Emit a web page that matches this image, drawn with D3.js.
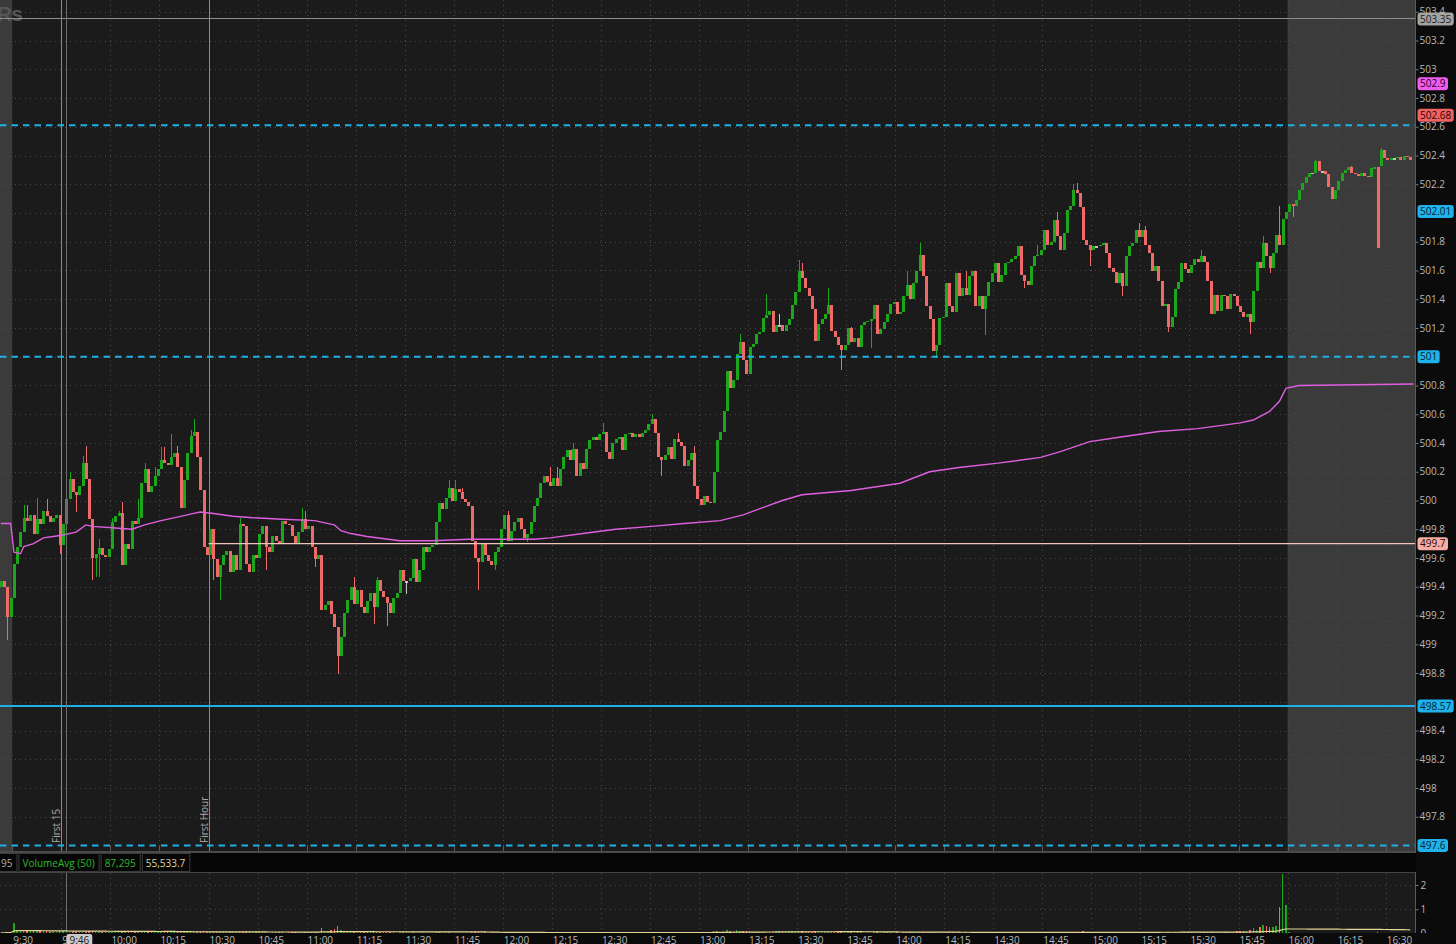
<!DOCTYPE html>
<html><head><meta charset="utf-8">
<script src="https://cdn.jsdelivr.net/npm/d3@7"></script>
<style>
html,body{margin:0;padding:0;background:#0b0b0b;overflow:hidden;}
svg{display:block;font-family:"Open Sans","Noto Sans",sans-serif;}
</style></head><body>
<svg id="chart" width="1456" height="944"></svg>
<script>
// ---------------- DATA ----------------
// 1-minute bars, index 0 = 9:30; first bar is 9:26 (index -4)
const startIndex = -4;
const firstOpen = 499.40;
const closes = [
 499.44, 499.40, 499.19, 499.32,
 499.56, 499.68, 499.78, 499.88, 499.86, 499.90, 499.77, 499.87, 499.84, 499.93,
 499.89, 499.85, 499.88, 499.90, 499.69, 499.84, 500.01, 500.15, 500.06, 500.04,
 500.10, 500.26, 500.15, 499.87, 499.60, 499.63, 499.67, 499.62, 499.61, 499.66,
 499.85, 499.89, 499.91, 499.55, 499.70, 499.66, 499.86, 499.84, 499.88, 500.12,
 500.22, 500.06, 500.10, 500.17, 500.22, 500.28, 500.26, 500.25, 500.30, 500.33,
 500.23, 499.95, 500.14, 500.33, 500.45, 500.48, 500.30, 500.07, 499.68, 499.62,
 499.80, 499.59, 499.47, 499.55, 499.62, 499.65, 499.50, 499.62, 499.52, 499.84,
 499.82, 499.56, 499.50, 499.62, 499.60, 499.77, 499.82, 499.68, 499.64, 499.75,
 499.72, 499.70, 499.86, 499.84, 499.83, 499.75, 499.70, 499.78, 499.87, 499.80,
 499.82, 499.68, 499.59, 499.62, 499.24, 499.27, 499.30, 499.21, 499.12, 498.92,
 499.05, 499.22, 499.31, 499.40, 499.28, 499.38, 499.26, 499.22, 499.30, 499.36,
 499.26, 499.45, 499.37, 499.33, 499.29, 499.22, 499.32, 499.36, 499.52, 499.44,
 499.44, 499.46, 499.59, 499.43, 499.52, 499.68, 499.64, 499.68, 499.69, 499.85,
 499.98, 499.94, 500.02, 500.09, 500.00, 500.08, 500.06, 500.01, 499.99, 499.96,
 499.72, 499.60, 499.57, 499.70, 499.62, 499.58, 499.55, 499.64, 499.68, 499.80,
 499.90, 499.72, 499.79, 499.85, 499.88, 499.80, 499.74, 499.77, 499.85, 499.96,
 500.02, 500.12, 500.17, 500.13, 500.10, 500.16, 500.10, 500.22, 500.30, 500.35,
 500.28, 500.36, 500.17, 500.26, 500.22, 500.36, 500.42, 500.44, 500.42, 500.46,
 500.48, 500.34, 500.29, 500.40, 500.43, 500.44, 500.35, 500.46, 500.47, 500.44,
 500.46, 500.44, 500.47, 500.49, 500.53, 500.57, 500.47, 500.30, 500.28, 500.32,
 500.37, 500.29, 500.43, 500.41, 500.38, 500.24, 500.28, 500.33, 500.10, 500.01,
 499.97, 500.03, 499.99, 499.98, 500.20, 500.42, 500.48, 500.62, 500.90, 500.78,
 500.84, 501.02, 501.10, 500.98, 500.88, 501.07, 501.09, 501.16, 501.17, 501.27,
 501.29, 501.32, 501.17, 501.22, 501.22, 501.18, 501.22, 501.26, 501.36, 501.45,
 501.60, 501.55, 501.48, 501.42, 501.33, 501.11, 501.23, 501.26, 501.30, 501.36,
 501.18, 501.14, 501.08, 501.05, 501.08, 501.20, 501.10, 501.13, 501.07, 501.22,
 501.24, 501.25, 501.26, 501.36, 501.16, 501.19, 501.24, 501.30, 501.37, 501.38,
 501.30, 501.31, 501.42, 501.50, 501.40, 501.51, 501.60, 501.71, 501.56, 501.35,
 501.26, 501.04, 501.08, 501.27, 501.28, 501.51, 501.35, 501.31, 501.58, 501.42,
 501.48, 501.43, 501.56, 501.60, 501.35, 501.42, 501.33, 501.42, 501.52, 501.58,
 501.65, 501.52, 501.57, 501.65, 501.66, 501.68, 501.70, 501.77, 501.57, 501.53,
 501.50, 501.63, 501.70, 501.71, 501.74, 501.88, 501.78, 501.80, 501.95, 501.84,
 501.74, 501.86, 502.02, 502.05, 502.16, 502.14, 502.04, 501.81, 501.78, 501.74,
 501.77, 501.77, 501.78, 501.79, 501.72, 501.62, 501.59, 501.51, 501.58, 501.49,
 501.70, 501.77, 501.79, 501.88, 501.83, 501.88, 501.78, 501.72, 501.60, 501.63,
 501.53, 501.35, 501.37, 501.21, 501.28, 501.47, 501.52, 501.65, 501.61, 501.58,
 501.64, 501.68, 501.66, 501.70, 501.66, 501.53, 501.30, 501.43, 501.32, 501.43,
 501.42, 501.33, 501.44, 501.42, 501.35, 501.31, 501.28, 501.30, 501.24, 501.46,
 501.66, 501.62, 501.79, 501.70, 501.62, 501.72, 501.85, 501.78, 501.96, 502.01,
 502.06, 502.05, 502.09, 502.16, 502.21, 502.25, 502.28, 502.28, 502.36, 502.29,
 502.29, 502.27, 502.18, 502.10, 502.16, 502.22, 502.28, 502.30, 502.32, 502.28,
 502.27, 502.26, 502.28, 502.26, 502.25, 502.31, 502.32, 501.76, 502.44, 502.38,
 502.37, 502.38, 502.38, 502.39, 502.37, 502.40, 502.39, 502.37
];
// opens that do not equal the previous close: [barIndex, open]
const gapOpens = [[418, 502.33]];
// wick extremes: [barIndex, price]
const highs = [[3,499.97],[4,499.97],[7,500.02],[10,500.01],[17,500.20],[21,500.31],[22,500.38],[26,499.73],[30,499.88],[32,499.93],[33,499.99],[38,500.01],[40,500.26],[43,500.23],[45,500.37],[46,500.37],[48,500.46],[50,500.38],[54,500.49],[55,500.57],[69,499.88],[88,499.95],[89,499.93],[104,499.47],[111,499.47],[133,500.14],[135,500.14],[137,500.09],[151,499.93],[164,500.23],[166,500.23],[171,500.40],[180,500.54],[195,500.60],[203,500.47],[208,500.38],[222,501.16],[230,501.44],[234,501.30],[240,501.67],[241,501.65],[249,501.48],[256,501.21],[273,501.60],[277,501.79],[291,501.60],[313,501.78],[319,502.01],[324,502.20],[325,502.21],[343,501.86],[344,501.93],[346,501.91],[363,501.74],[382,501.84],[387,502.05],[398,502.37],[409,502.33],[418,502.45]];
const lows = [[-2,499.03],[14,499.63],[19,499.92],[24,499.45],[25,499.47],[26,499.47],[61,499.45],[63,499.31],[77,499.52],[92,499.54],[99,498.79],[110,499.14],[114,499.13],[120,499.35],[142,499.38],[147,499.52],[157,499.71],[198,500.17],[253,500.91],[262,501.06],[282,500.99],[297,501.15],[309,501.48],[329,501.63],[339,501.42],[353,501.17],[378,501.16],[384,501.58],[391,501.97]];
// volume per bar, thousands of shares
const volumes = [
 30, 25, 45, 35,
 420, 150, 120, 160, 110, 95, 130, 100, 90, 85,
 110, 80, 70, 75, 90, 95, 87, 75, 70, 60,
 65, 70, 80, 95, 120, 90, 70, 60, 75, 55,
 60, 50, 55, 80, 70, 60, 65, 50, 55, 60,
 65, 70, 55, 60, 50, 55, 60, 45, 70, 60,
 55, 110, 60, 75, 80, 60, 65, 90, 120, 80,
 70, 75, 80, 60, 55, 50, 65, 55, 45, 70,
 60, 55, 50, 45, 50, 55, 60, 45, 40, 50,
 45, 50, 55, 40, 45, 50, 55, 45, 40, 50,
 55, 60, 80, 75, 230, 120, 90, 140, 180, 290,
 150, 110, 90, 70, 65, 60, 55, 50, 60, 55,
 60, 50, 45, 55, 50, 45, 50, 40, 55, 45,
 40, 35, 45, 40, 35, 45, 40, 35, 30, 45,
 50, 40, 45, 50, 40, 35, 40, 35, 30, 40,
 70, 60, 55, 50, 45, 40, 35, 40, 35, 45,
 50, 45, 40, 35, 40, 35, 30, 35, 40, 45,
 40, 45, 35, 30, 35, 30, 35, 40, 45, 40,
 35, 40, 45, 35, 30, 35, 40, 35, 30, 35,
 40, 35, 30, 35, 40, 30, 35, 40, 30, 35,
 30, 35, 30, 35, 40, 45, 40, 55, 60, 45,
 40, 45, 40, 35, 40, 50, 45, 40, 60, 70,
 80, 60, 55, 50, 90, 100, 80, 120, 150, 110,
 100, 130, 120, 90, 100, 85, 80, 75, 70, 65,
 70, 60, 65, 60, 55, 60, 55, 60, 75, 80,
 110, 90, 80, 70, 65, 85, 60, 55, 50, 55,
 60, 50, 55, 60, 45, 50, 45, 40, 45, 50,
 40, 45, 40, 50, 45, 40, 45, 50, 45, 40,
 45, 40, 45, 50, 45, 50, 55, 70, 60, 55,
 50, 65, 55, 50, 45, 55, 50, 45, 50, 45,
 40, 45, 40, 45, 50, 40, 45, 50, 45, 40,
 45, 40, 45, 40, 35, 40, 45, 50, 45, 40,
 35, 40, 45, 40, 45, 55, 50, 45, 60, 55,
 50, 45, 55, 50, 60, 55, 60, 110, 70, 60,
 55, 50, 45, 40, 45, 50, 45, 55, 50, 60,
 55, 50, 45, 50, 45, 40, 50, 45, 55, 50,
 60, 70, 55, 75, 60, 55, 50, 55, 50, 45,
 50, 45, 50, 45, 55, 60, 70, 65, 60, 70,
 70, 75, 80, 70, 90, 100, 110, 120, 160, 220,
 140, 250, 350, 320, 250, 260, 300, 1100, 2450, 1180,
 60, 40, 30, 25, 30, 20, 25, 15, 20, 15,
 15, 10, 12, 20, 15, 10, 12, 10, 15, 10,
 8, 10, 6, 8, 10, 8, 12, 60, 30, 15,
 10, 8, 6, 10, 8, 6, 5, 8
];
// VWAP: [barIndex, price]
const vwapPoints = [[-4,499.84],[-1,499.84],[0,499.64],[2,499.63],[3,499.68],[6,499.70],[9,499.74],[12,499.75],[15,499.76],[19,499.78],[22,499.83],[24,499.82],[30,499.81],[36,499.80],[40,499.83],[45,499.86],[51,499.89],[55,499.91],[57,499.92],[61,499.91],[67,499.89],[73,499.88],[82,499.87],[92,499.86],[94,499.85],[98,499.83],[100,499.79],[103,499.77],[108,499.75],[118,499.72],[128,499.72],[139,499.73],[149,499.73],[159,499.73],[164,499.74],[174,499.77],[184,499.80],[195,499.82],[205,499.84],[216,499.86],[223,499.90],[229,499.95],[235,500.00],[241,500.04],[256,500.07],[271,500.12],[280,500.20],[289,500.23],[301,500.26],[314,500.30],[320,500.34],[329,500.41],[338,500.44],[350,500.48],[362,500.50],[375,500.54],[379,500.56],[384,500.62],[387,500.69],[389,500.78],[393,500.80],[428,500.81]];
const priceTicks = [497.8,498,498.2,498.4,498.6,498.8,499,499.2,499.4,499.6,499.8,500,500.2,500.4,500.6,500.8,501,501.2,501.4,501.6,501.8,502,502.2,502.4,502.6,502.8,503,503.2,503.4];
const timeLabels = ["9:30","9:45","10:00","10:15","10:30","10:45","11:00","11:15","11:30","11:45","12:00","12:15","12:30","12:45","13:00","13:15","13:30","13:45","14:00","14:15","14:30","14:45","15:00","15:15","15:30","15:45","16:00","16:15","16:30"];
const volTicks = [0, 1, 2];
const dashedLevels = [502.61, 501, 497.6];
const solidLevel = 498.57;
const firstHourLevel = 499.7;
const crosshairPrice = 503.35;
const crosshairMinute = 16;       // 9:46
const firstMinuteMarks = [[15, "First 15"], [60, "First Hour"]];
const postMarketStart = 390;      // 16:00
const badges = [
  ["503.35", 503.35, "cross"], ["502.9", 502.9, "magenta"], ["502.68", 502.68, "red"],
  ["502.01", 502.01, "cyan"], ["501", 501, "cyan"], ["499.7", 499.7, "pink"],
  ["498.57", 498.57, "cyan"], ["497.6", 497.6, "cyan"]
];
const headerCells = [["95","grey"],["VolumeAvg (50)","green"],["87,295","green"],["55,533.7","yellow"]];
const smaPeriod = 50;

// ---------------- LAYOUT ----------------
const W = 1456, H = 944, plotR = 1415;
const priceBottom = 851, headTop = 853, headBottom = 872, volTop = 873, volBottom = 933;
const C = {
  bg: "#1b1b1b", axisBg: "#0b0b0b", shade: "#3b3b3b", grid: "#4a4a4a",
  up: "#1ba61b", down: "#f06a6a", flat: "#c4c4c4", text: "#b8b8b8",
  cyan: "#1fb0e8", vwap: "#e05ee0", pink: "#f2c4bb", avg: "#e6d494"
};
const badgeStyle = {
  cross: ["#a3a3a3", "#1c1c1c"], magenta: ["#ee5cee", "#1a001a"], red: ["#f06262", "#1c0505"],
  cyan: ["#1fb2ea", "#04202c"], pink: ["#f7aca4", "#2a0a08"]
};
const cellColor = { grey: "#b0b0b0", green: "#2dba2d", yellow: "#e4d6a0" };

const x = d3.scaleLinear().domain([0, 420]).range([12.3, 1385.7]);      // minutes since 9:30
const y = d3.scaleLinear().domain([497.6, 503.2]).range([845.5, 40.5]);
const vy = d3.scaleLinear().domain([0, 2]).range([volBottom + 0.5, 885]);

const svg = d3.select("#chart");
svg.append("rect").attr("width", W).attr("height", H).attr("fill", C.axisBg);

// bars
const gapMap = new Map(gapOpens), hiMap = new Map(highs), loMap = new Map(lows);
const bars = closes.map((c, k) => {
  const i = startIndex + k;
  const o = k === 0 ? firstOpen : (gapMap.has(i) ? gapMap.get(i) : closes[k - 1]);
  const h = hiMap.has(i) ? hiMap.get(i) : Math.max(o, c);
  const l = loMap.has(i) ? loMap.get(i) : Math.min(o, c);
  return { i, o, c, h, l, v: volumes[k] / 1000 };
});
bars.forEach((b, k) => {
  const win = bars.slice(Math.max(0, k - smaPeriod + 1), k + 1);
  b.avg = d3.mean(win, d => d.v);
});
const colorOf = b => Math.abs(b.c - b.o) < 0.005 ? C.flat : (b.c > b.o ? C.up : C.down);

// ---------------- PRICE PANEL ----------------
const pp = svg.append("g");
pp.append("rect").attr("x", 0).attr("y", 0).attr("width", plotR).attr("height", priceBottom).attr("fill", C.bg);
pp.append("rect").attr("x", 0).attr("y", 0).attr("width", x(0)).attr("height", priceBottom).attr("fill", C.shade);
pp.append("rect").attr("x", x(postMarketStart)).attr("y", 0).attr("width", plotR - x(postMarketStart)).attr("height", priceBottom).attr("fill", C.shade);

// watermark fragment
pp.append("text").attr("x", -3).attr("y", 21).attr("font-size", 21).attr("font-weight", 700)
  .attr("font-family", "Liberation Sans, Arial, sans-serif").attr("letter-spacing", -1)
  .attr("fill", "#555555").text("Rs");

// grid
const tickMinutes = timeLabels.map((d, k) => k * 15);
pp.append("g").selectAll("line").data(priceTicks).join("line")
  .attr("x1", 0).attr("x2", plotR).attr("y1", d => Math.round(y(d)) + 0.5).attr("y2", d => Math.round(y(d)) + 0.5)
  .attr("stroke", C.grid).attr("stroke-dasharray", "1,4");
pp.append("g").selectAll("line").data(tickMinutes.slice(1)).join("line")
  .attr("x1", d => Math.round(x(d)) + 0.5).attr("x2", d => Math.round(x(d)) + 0.5).attr("y1", 0).attr("y2", priceBottom)
  .attr("stroke", C.grid).attr("stroke-dasharray", "1,4");
pp.append("g").selectAll("line").data(tickMinutes).join("line")
  .attr("x1", d => Math.round(x(d)) + 0.5).attr("x2", d => Math.round(x(d)) + 0.5).attr("y1", priceBottom - 5).attr("y2", priceBottom)
  .attr("stroke", "#5a5a5a");

// First 15 / First Hour markers
firstMinuteMarks.forEach(([m, label]) => {
  const xx = Math.round(x(m)) + 0.5;
  pp.append("line").attr("x1", xx).attr("x2", xx).attr("y1", 0).attr("y2", priceBottom).attr("stroke", "#8a8a8a");
  pp.append("text").attr("transform", `translate(${xx - 2},${priceBottom - 8}) rotate(-90)`)
    .attr("font-size", 10).attr("fill", "#aaaaaa").text(label);
});
// crosshair vertical
const cx0 = Math.round(x(crosshairMinute + 0.5)) + 0.5;
svg.append("line").attr("x1", cx0).attr("x2", cx0).attr("y1", 0).attr("y2", priceBottom).attr("stroke", "#6c6c6c");

// candles
const bw = 2.6;
const cg = pp.append("g").attr("shape-rendering", "crispEdges");
cg.selectAll("line").data(bars).join("line")
  .attr("x1", d => Math.round(x(d.i + 0.5)) + 0.5).attr("x2", d => Math.round(x(d.i + 0.5)) + 0.5)
  .attr("y1", d => y(d.h)).attr("y2", d => y(d.l)).attr("stroke", colorOf);
cg.selectAll("rect").data(bars).join("rect")
  .attr("x", d => Math.round(x(d.i + 0.5)) - 1).attr("width", 3)
  .attr("y", d => y(Math.max(d.o, d.c)))
  .attr("height", d => Math.max(1.5, Math.abs(y(d.o) - y(d.c))))
  .attr("fill", colorOf);

// VWAP
pp.append("path").datum(vwapPoints)
  .attr("d", d3.line().x(d => x(d[0] + 0.5)).y(d => y(d[1])))
  .attr("fill", "none").attr("stroke", C.vwap).attr("stroke-width", 1.4);

// levels
dashedLevels.forEach(v => {
  pp.append("line").attr("x1", 0).attr("x2", plotR).attr("y1", y(v)).attr("y2", y(v))
    .attr("stroke", C.cyan).attr("stroke-width", 2).attr("stroke-dasharray", "6.5,5");
});
pp.append("line").attr("x1", 0).attr("x2", plotR).attr("y1", y(solidLevel)).attr("y2", y(solidLevel))
  .attr("stroke", C.cyan).attr("stroke-width", 2);
pp.append("line").attr("x1", x(60)).attr("x2", plotR).attr("y1", y(firstHourLevel)).attr("y2", y(firstHourLevel))
  .attr("stroke", C.pink).attr("stroke-width", 1.4);
// crosshair horizontal
pp.append("line").attr("x1", 0).attr("x2", plotR).attr("y1", Math.round(y(crosshairPrice)) - 0.5).attr("y2", Math.round(y(crosshairPrice)) - 0.5)
  .attr("stroke", "#8e8e8e");

// right price axis (labels hidden where a badge sits on them)
const badgeYs = badges.map(b => y(b[1]));
const visibleTicks = priceTicks.filter(t => t === d3.max(priceTicks) || badgeYs.every(by => Math.abs(y(t) - by) > 8));
svg.append("line").attr("x1", plotR + 0.5).attr("x2", plotR + 0.5).attr("y1", 0).attr("y2", volBottom).attr("stroke", "#5a5a5a");
const ya = svg.append("g").attr("transform", `translate(${plotR + 0.5},0)`)
  .call(d3.axisRight(y).tickValues(visibleTicks).tickFormat(d3.format("~f")).tickSizeInner(3).tickSizeOuter(0).tickPadding(1));
ya.select(".domain").remove();
ya.selectAll("line").attr("stroke", "#777");
ya.selectAll("text").attr("fill", C.text).attr("font-size", 10).attr("font-family", "Open Sans");

// badges
badges.forEach(([label, v, kind]) => {
  const [bg, fg] = badgeStyle[kind];
  const yy = y(v);
  const g = svg.append("g");
  const t = g.append("text").attr("x", plotR + 5).attr("y", yy).attr("dy", "0.36em")
    .attr("font-size", 10).attr("fill", fg).text(label);
  const w = t.node().getComputedTextLength();
  g.insert("rect", "text").attr("x", plotR + 2.5).attr("y", yy - 6.5).attr("width", w + 5).attr("height", 13)
    .attr("rx", 3).attr("fill", bg);
});

// ---------------- HEADER ----------------
svg.append("rect").attr("x", 0).attr("y", priceBottom).attr("width", plotR).attr("height", 2).attr("fill", "#4a4a4a");
svg.append("rect").attr("x", 0).attr("y", headTop).attr("width", plotR + 1).attr("height", headBottom - headTop).attr("fill", "#060606");
svg.append("rect").attr("x", 0).attr("y", headBottom).attr("width", plotR).attr("height", 1).attr("fill", "#444");
let cx = -3;
headerCells.forEach(([txt, col]) => {
  const t = svg.append("text").attr("x", cx + 4).attr("y", 866.5).attr("font-size", 10)
    .attr("fill", cellColor[col]).text(txt);
  const w = t.node().getComputedTextLength();
  svg.append("rect").attr("x", cx + 0.5).attr("y", headTop + 0.5).attr("width", w + 8).attr("height", headBottom - headTop - 1)
    .attr("fill", "none").attr("stroke", "#3c3c3c");
  cx += w + 10;
});

// ---------------- VOLUME PANEL ----------------
const vp = svg.append("g");
vp.append("rect").attr("x", 0).attr("y", volTop).attr("width", plotR).attr("height", volBottom - volTop).attr("fill", C.bg);
vp.append("g").selectAll("line").data(volTicks.slice(1)).join("line")
  .attr("x1", 0).attr("x2", plotR).attr("y1", d => Math.round(vy(d)) + 0.5).attr("y2", d => Math.round(vy(d)) + 0.5)
  .attr("stroke", C.grid).attr("stroke-dasharray", "1,4");
vp.append("g").selectAll("line").data(tickMinutes.slice(1)).join("line")
  .attr("x1", d => Math.round(x(d)) + 0.5).attr("x2", d => Math.round(x(d)) + 0.5).attr("y1", volTop).attr("y2", volBottom)
  .attr("stroke", C.grid).attr("stroke-dasharray", "1,4");
vp.append("line").attr("x1", cx0).attr("x2", cx0).attr("y1", volTop).attr("y2", volBottom).attr("stroke", "#6c6c6c");
vp.append("g").attr("shape-rendering", "crispEdges").selectAll("rect").data(bars).join("rect")
  .attr("x", d => x(d.i + 0.5) - 0.75).attr("width", 1.5)
  .attr("y", d => Math.max(volTop, vy(d.v))).attr("height", d => vy(0) - Math.max(volTop, vy(d.v)))
  .attr("fill", d => Math.abs(d.c - d.o) < 0.005 ? C.cyan : (d.c > d.o ? C.up : C.down));
vp.append("path").datum(bars)
  .attr("d", d3.line().x(d => x(d.i + 0.5)).y(d => vy(d.avg)))
  .attr("fill", "none").attr("stroke", C.avg).attr("stroke-width", 1.2);
const va = svg.append("g").attr("transform", `translate(${plotR + 0.5},0)`)
  .call(d3.axisRight(vy).tickValues(volTicks).tickFormat(d3.format("d")).tickSizeInner(3).tickSizeOuter(0).tickPadding(2));
va.select(".domain").remove();
va.selectAll("line").attr("stroke", "#777");
va.selectAll("text").attr("fill", C.text).attr("font-size", 10).attr("font-family", "Open Sans");

// ---------------- TIME AXIS ----------------
svg.append("rect").attr("x", 0).attr("y", volBottom).attr("width", W).attr("height", H - volBottom).attr("fill", C.axisBg);
svg.append("g").selectAll("text").data(timeLabels).join("text")
  .attr("x", (d, k) => x(k * 15) + 1).attr("y", 943.5)
  .attr("font-size", 10).attr("fill", C.text).text(d => d);
// cursor time badge
const ctg = svg.append("g");
const ct = ctg.append("text").attr("x", cx0 + 3).attr("y", 943.5).attr("font-size", 10).attr("fill", "#1a1a1a").text("9:46");
const ctw = ct.node().getComputedTextLength();
ctg.insert("rect", "text").attr("x", cx0).attr("y", 934).attr("width", ctw + 6).attr("height", 12).attr("rx", 2).attr("fill", "#c9c9c9");
</script>
</body></html>
